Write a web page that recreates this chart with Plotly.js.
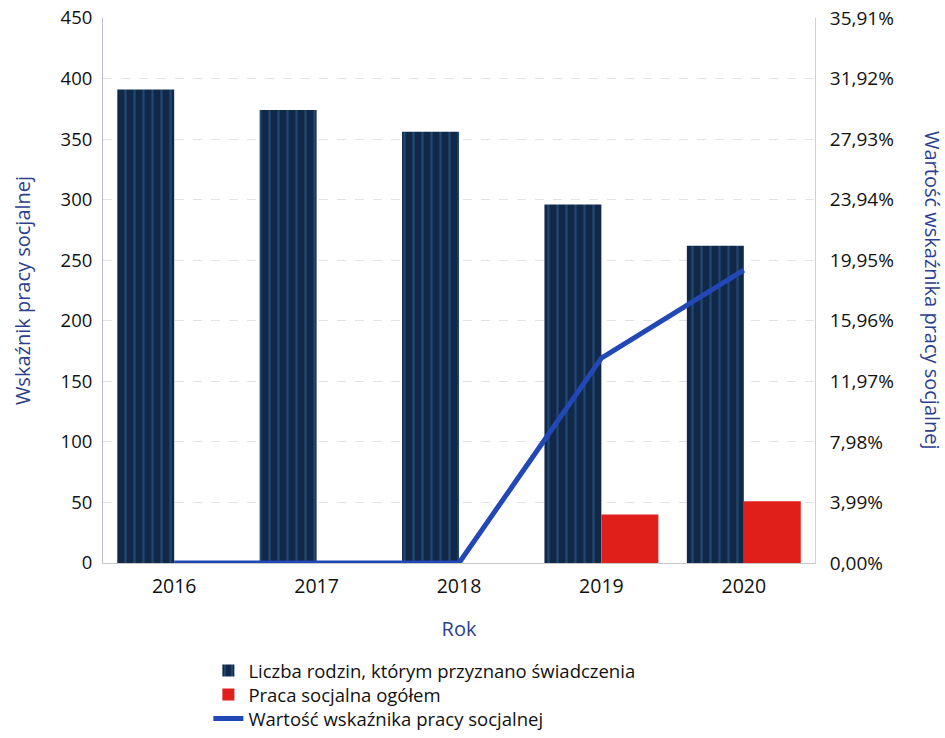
<!DOCTYPE html>
<html>
<head>
<meta charset="utf-8">
<script src="https://cdn.plot.ly/plotly-3.0.1.min.js"></script>
<style>html,body{margin:0;padding:0;background:#fff;}#chart{width:945px;height:738px;}</style>
</head>
<body>
<div id="chart"></div>
<script>
const years = ['2016', '2017', '2018', '2019', '2020'];
const rodziny = [391, 374, 356, 296, 262];
const pracaSocjalna = [0, 0, 0, 40, 51];
const wskaznik = [0, 0, 0, 13.5, 19.3];
const leftTicks = [0, 50, 100, 150, 200, 250, 300, 350, 400, 450];
const rightTickVals = [0, 3.99, 7.98, 11.97, 15.96, 19.95, 23.94, 27.93, 31.92, 35.91];
const rightTickText = ['0,00%', '3,99%', '7,98%', '11,97%', '15,96%', '19,95%', '23,94%', '27,93%', '31,92%', '35,91%'];

const fontFam = 'Open Sans, Noto Sans, sans-serif';
const titleBlue = '#2c3f8f';
const legendFont = {size: 18.5, color: '#111'};

const traces = [
  {
    type: 'bar', x: years, y: rodziny,
    name: 'Liczba rodzin, którym przyznano świadczenia',
    legend: 'legend',
    marker: {
      color: '#14305a',
      pattern: {shape: '|', bgcolor: '#112848', fgcolor: '#2a6a9e', size: 9, solidity: 0.25, fillmode: 'overlay'},
      line: {width: 0}
    }
  },
  {
    type: 'bar', x: years, y: pracaSocjalna,
    name: 'Praca socjalna ogółem',
    legend: 'legend2',
    marker: {color: '#e01e1a', line: {width: 0}}
  },
  {
    type: 'scatter', mode: 'lines', x: years, y: wskaznik, yaxis: 'y2',
    name: 'Wartość wskaźnika pracy socjalnej',
    legend: 'legend3',
    line: {color: '#2148b4', width: 5}
  }
];

const legX = 0.148;
const legCommon = {xanchor: 'left', yanchor: 'middle', font: legendFont, itemwidth: 30, bgcolor: 'rgba(0,0,0,0)', borderwidth: 0};
const layout = {
  width: 945, height: 738,
  margin: {l: 103, r: 130, t: 18, b: 175, autoexpand: false},
  paper_bgcolor: '#ffffff', plot_bgcolor: '#ffffff',
  font: {family: fontFam, size: 18, color: '#1a1a1a'},
  barmode: 'group', bargap: 0.2, bargroupgap: 0,
  showlegend: true,
  legend: Object.assign({x: legX, y: -0.198}, legCommon),
  legend2: Object.assign({x: legX, y: -0.2422}, legCommon),
  legend3: Object.assign({x: legX, y: -0.2864}, legCommon),
  xaxis: {
    type: 'category',
    title: {text: 'Rok', font: {size: 20, color: titleBlue}, standoff: 23},
    showline: true, linecolor: '#c8c8c8', linewidth: 1,
    ticks: '', tickfont: {size: 19.5, color: '#111'}, ticklabelstandoff: 6,
    showgrid: false
  },
  yaxis: {
    range: [0, 450], tickvals: leftTicks,
    title: {text: 'Wskaźnik pracy socjalnej', font: {size: 20, color: titleBlue}, standoff: 24},
    showline: true, linecolor: '#b8bcc8', linewidth: 1,
    showgrid: true, gridcolor: '#e2e2e2', griddash: 'dash', gridwidth: 1,
    zeroline: false, ticks: '', tickfont: {size: 18.5, color: '#111'}, ticklabelstandoff: 6
  },
  yaxis2: {
    overlaying: 'y', side: 'right', range: [0, 35.91],
    tickvals: rightTickVals, ticktext: rightTickText,
    showline: true, linecolor: '#d0d0d0', linewidth: 1,
    showgrid: false, zeroline: false, ticks: '', ticklabelstandoff: 10,
    tickfont: {size: 19, color: '#111'}
  },
  annotations: [{
    text: 'Wartość wskaźnika pracy socjalnej',
    xref: 'paper', yref: 'paper', x: 1.165, y: 0.5,
    xanchor: 'center', yanchor: 'middle', textangle: 90,
    showarrow: false, font: {size: 20, color: titleBlue, family: fontFam}
  }]
};

Plotly.newPlot('chart', traces, layout, {displayModeBar: false, staticPlot: true});
</script>
</body>
</html>
